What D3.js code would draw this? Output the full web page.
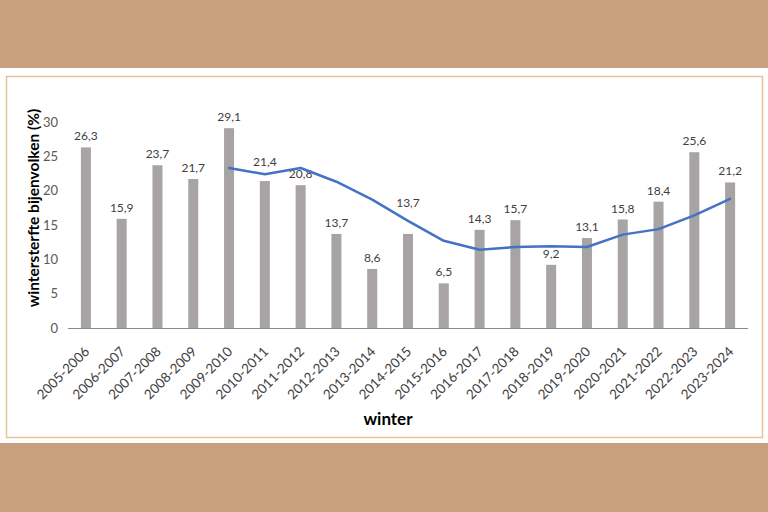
<!DOCTYPE html>
<html>
<head>
<meta charset="utf-8">
<script src="https://cdn.jsdelivr.net/npm/d3@7"></script>
<style>
html,body{margin:0;padding:0;background:#fff;}
svg{display:block;}
text{font-family:Lato,"Open Sans",sans-serif;}
</style>
</head>
<body>
<svg id="chart" width="768" height="512"></svg>
<script>
const categories = ["2005-2006","2006-2007","2007-2008","2008-2009","2009-2010","2010-2011","2011-2012","2012-2013","2013-2014","2014-2015","2015-2016","2016-2017","2017-2018","2018-2019","2019-2020","2020-2021","2021-2022","2022-2023","2023-2024"];
const losses = [26.3,15.9,23.7,21.7,29.1,21.4,20.8,13.7,8.6,13.7,6.5,14.3,15.7,9.2,13.1,15.8,18.4,25.6,21.2];
const trendCategories = ["2009-2010","2010-2011","2011-2012","2012-2013","2013-2014","2014-2015","2015-2016","2016-2017","2017-2018","2018-2019","2019-2020","2020-2021","2021-2022","2022-2023","2023-2024"];
const trend = [23.3,22.4,23.3,21.3,18.7,15.6,12.7,11.4,11.8,11.9,11.8,13.6,14.4,16.4,18.8];
const yTicks = [0,5,10,15,20,25,30];
const yTitle = "wintersterfte bijenvolken (%)";
const xTitle = "winter";

const svg = d3.select("#chart");
// page background
svg.append("rect").attr("x",0).attr("y",0).attr("width",768).attr("height",512).attr("fill","#C9A07D");
svg.append("rect").attr("x",0).attr("y",68).attr("width",768).attr("height",375).attr("fill","#ffffff");
svg.append("rect").attr("x",6.5).attr("y",76.5).attr("width",756).attr("height",361)
  .attr("fill","none").attr("stroke","#E6C19D").attr("stroke-width",1.5);

const x = d3.scaleBand().domain(categories).range([68,748]).paddingInner(0.72).paddingOuter(0.36);
const y = d3.scaleLinear().domain([0,30]).range([328,122]);
const fmt = v => d3.format(".1f")(v).replace(".", ",");

// y axis labels
const yAxis = d3.axisLeft(y).tickValues(yTicks).tickSize(0).tickPadding(0).tickFormat(d3.format("d"));
const ga = svg.append("g").attr("transform","translate(58,0)").call(yAxis);
ga.select(".domain").remove();
ga.selectAll("text").attr("font-size",13).attr("fill","#595959").attr("font-family","Lato, sans-serif");

// bars
svg.append("g").selectAll("rect").data(losses).join("rect")
  .attr("x",(d,i)=>x(categories[i]))
  .attr("y",d=>y(d))
  .attr("width",x.bandwidth())
  .attr("height",d=>y(0)-y(d))
  .attr("fill","#A8A4A3");

// baseline / x axis
const xAxis = d3.axisBottom(x).tickSize(0).tickPadding(0);
const gx = svg.append("g").attr("transform",`translate(0,${y(0)})`).call(xAxis);
gx.select(".domain").attr("stroke","#8c8c8c").attr("stroke-width",1).attr("d","M68,0.5H748");
gx.selectAll(".tick text")
  .attr("font-size",13.5).attr("fill","#404040").attr("font-family","Lato, sans-serif")
  .attr("text-anchor","end").attr("dy","0.35em")
  .attr("transform","translate(1,21) rotate(-45)");

// value labels (two labels lifted clear of the trend line, as in the original)
const labelLift = {"2010-2011": 8, "2014-2015": 20};
svg.append("g").selectAll("text").data(losses).join("text")
  .attr("x",(d,i)=>x(categories[i])+x.bandwidth()/2)
  .attr("y",(d,i)=>y(d)-7-(labelLift[categories[i]]||0))
  .attr("text-anchor","middle")
  .attr("font-size",12).attr("fill","#404040")
  .text(d=>fmt(d));

// trend line
const line = d3.line().x((d,i)=>x(trendCategories[i])+x.bandwidth()/2).y(d=>y(d));
svg.append("path").datum(trend).attr("d",line).attr("fill","none")
  .attr("stroke","#4472C4").attr("stroke-width",2.5).attr("stroke-linejoin","round").attr("stroke-linecap","round");

// titles
svg.append("text").attr("transform","translate(33,208) rotate(-90)")
  .attr("text-anchor","middle").attr("dominant-baseline","central")
  .attr("font-size",15.5).attr("font-weight","bold").attr("fill","#000")
  .text(yTitle);
svg.append("text").attr("x",388).attr("y",418)
  .attr("text-anchor","middle").attr("dominant-baseline","central")
  .attr("font-size",17).attr("font-weight","bold").attr("fill","#000")
  .text(xTitle);
</script>
</body>
</html>
